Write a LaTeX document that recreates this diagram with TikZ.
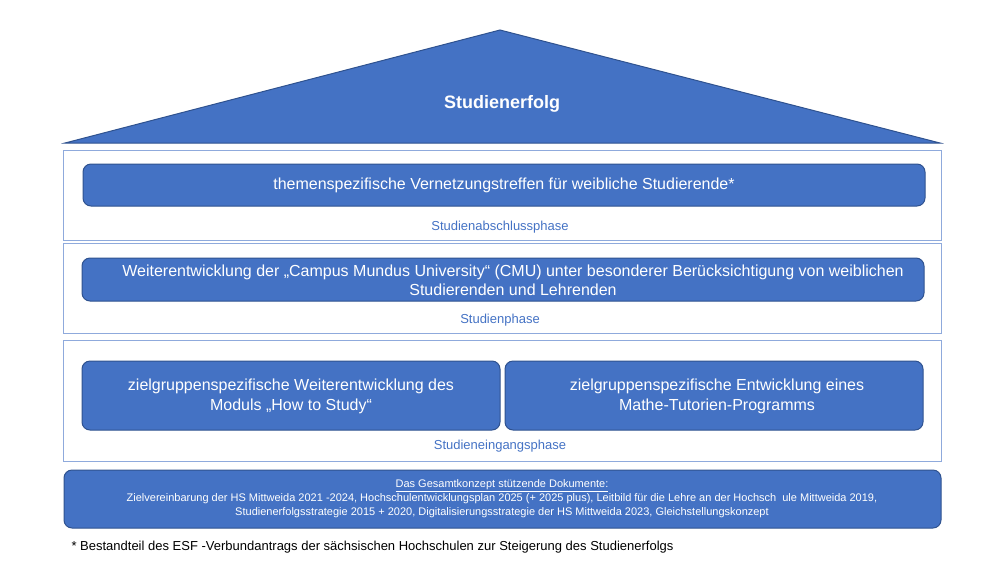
\documentclass[tikz,border=0pt]{standalone}
\usepackage{fontspec}
\setmainfont{Liberation Sans}
\usetikzlibrary{positioning}
\definecolor{boxblue}{HTML}{4472C4}
\definecolor{darkblue}{HTML}{2F528F}
\definecolor{frameblue}{HTML}{8FAADC}
\tikzset{
  measure/.style = {draw = darkblue, fill = boxblue, rounded corners = 8pt, line width = 1pt, text = white, align = center, font = \fontsize{16}{19}\selectfont},
  phaseframe/.style = {draw = frameblue, line width = 1pt},
  phaselabel/.style = {text = boxblue, font = \fontsize{13}{15}\selectfont}
}
\begin{document}
\begin{tikzpicture}[x = 1pt, y = -1pt]
\useasboundingbox (0, 0) rectangle (1000, 563);
% Roof
\draw[draw = darkblue, fill = boxblue, line width = 1pt] (65, 143) -- (500, 30) -- (940, 143) -- cycle;
\node[text = white, font = \bfseries\fontsize{18}{21}\selectfont] (roof) at (502, 104) {Studienerfolg};
% Frames
\draw[phaseframe] (63, 150) rectangle (941, 240);
\draw[phaseframe] (63, 243) rectangle (941, 333);
\draw[phaseframe] (63, 340) rectangle (941, 461);
% Studienabschlussphase
\draw[measure] (83, 164) rectangle (925, 206);
\node[text = white, font = \fontsize{16}{19}\selectfont] (vernetzung) at (504, 185) {themenspezifische Vernetzungstreffen für weibliche Studierende*};
\node[phaselabel] (abschluss) at (500, 227) {Studienabschlussphase};
% Studienphase
\draw[measure] (82, 258) rectangle (924, 301);
\node[text = white, align = center, font = \fontsize{16}{19}\selectfont] (cmu) at (513, 280) {Weiterentwicklung der „Campus Mundus University“ (CMU) unter besonderer Berücksichtigung von weiblichen\\Studierenden und Lehrenden};
\node[phaselabel] (studien) at (500, 320) {Studienphase};
% Studieneingangsphase
\draw[measure] (82, 361) rectangle (500, 430);
\node[text = white, align = center, font = \fontsize{16}{20}\selectfont] (howto) at (291, 396) {zielgruppenspezifische Weiterentwicklung des\\Moduls „How to Study“};
\draw[measure] (505, 361) rectangle (923, 430);
\node[text = white, align = center, font = \fontsize{16}{20}\selectfont] (mathe) at (717, 396) {zielgruppenspezifische Entwicklung eines\\Mathe-Tutorien-Programms};
\node[phaselabel] (eingang) at (500, 446) {Studieneingangsphase};
% Documents
\draw[measure] (64, 470) rectangle (941, 528);
\node[text = white, align = center, font = \fontsize{11}{14}\selectfont] (docs) at (502, 499) {\underline{Das Gesamtkonzept stützende Dokumente:}\\Zielvereinbarung der HS Mittweida 2021 -2024, Hochschulentwicklungsplan 2025 (+ 2025 plus), Leitbild für die Lehre an der Hochsch\ \ ule Mittweida 2019,\\Studienerfolgsstrategie 2015 + 2020, Digitalisierungsstrategie der HS Mittweida 2023, Gleichstellungskonzept};
% Footnote
\node[anchor = west, font = \fontsize{13}{15}\selectfont] (note) at (68, 547) {* Bestandteil des ESF -Verbundantrags der sächsischen Hochschulen zur Steigerung des Studienerfolgs};
\end{tikzpicture}
\end{document}
